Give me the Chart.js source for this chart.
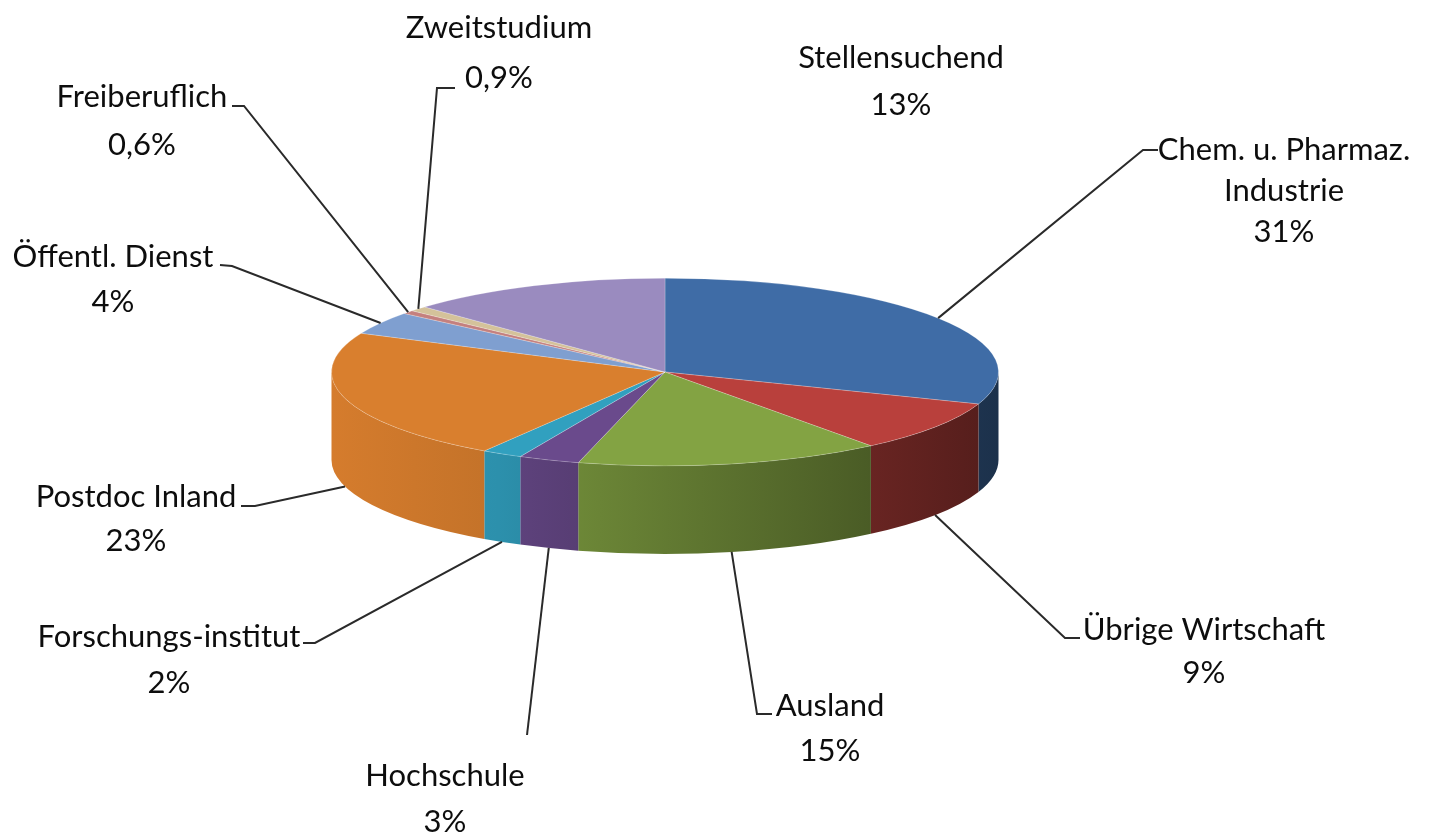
<!DOCTYPE html>
<html>
<head>
<meta charset="utf-8">
<script src="https://cdn.jsdelivr.net/npm/chart.js@4.4.1/dist/chart.umd.min.js"></script>
<style>
    body { margin: 0; background: #fff; }
    #wrap { width: 1429px; height: 834px; position: relative; }
</style>
</head>
<body>
<div id="wrap"><canvas id="myChart"></canvas></div>
<script>
// Kategorien und Werte (Prozent), im Uhrzeigersinn ab 12 Uhr
const categories = ['Chem. u. Pharmaz. Industrie', 'Übrige Wirtschaft', 'Ausland', 'Hochschule', 'Forschungs-institut',
    'Postdoc Inland', 'Öffentl. Dienst', 'Freiberuflich', 'Zweitstudium', 'Stellensuchend'];
const shares = [31, 9, 15, 3, 2, 23, 4, 0.6, 0.9, 13];
const sliceColors = ['#3F6CA6', '#B9403C', '#83A343', '#6A4A8C', '#31A0BF',
    '#D97F2E', '#7F9FD0', '#C4807E', '#D4C29A', '#9A8BBF'];

// Layout der Beschriftungen (Textmitte, erste Zeile, Zeilenabstand, Knick der Fuehrungslinie)
const labelLayout = [
    { x: 1284, y: 150, lh: 41, wrap: true, elbow: [1143, 150], end: [1158, 150] },
    { x: 1204, y: 630, lh: 43, elbow: [1065, 638], end: [1080, 638] },
    { x: 830, y: 706, lh: 45, elbow: [757, 714], end: [772, 714] },
    { x: 445, y: 776, lh: 46, elbow: [527, 735], end: [527, 735] },
    { x: 169, y: 637, lh: 46, elbow: [315, 643], end: [303, 643] },
    { x: 136, y: 497, lh: 44, elbow: [255, 506], end: [241, 506] },
    { x: 113, y: 257, lh: 45, elbow: [232, 266], end: [220, 265] },
    { x: 142, y: 97, lh: 48, elbow: [244, 106], end: [232, 106] },
    { x: 499, y: 28, lh: 50, elbow: [437, 88], end: [455, 88] },
    { x: 901, y: 58, lh: 47, elbow: null, end: null }
];

const tilt = 94 / 334;   // Verhaeltnis Ellipse / Kreis
const depth = 88;        // Hoehe der Seitenwand

function shade(hex, f) {
    let n = parseInt(hex.slice(1), 16);
    let r = Math.round(((n >> 16) & 255) * f);
    let g = Math.round(((n >> 8) & 255) * f);
    let b = Math.round((n & 255) * f);
    return 'rgb(' + r + ',' + g + ',' + b + ')';
}

function pctText(v) {
    return String(v).replace('.', ',') + '%';
}

const pie3d = {
    id: 'pie3d',
    beforeDatasetsDraw(chart) {
        const ctx = chart.ctx;
        const arcs = chart.getDatasetMeta(0).data;
        const cx = arcs[0].x, cy = arcs[0].y, r = arcs[0].outerRadius;
        const ry = r * tilt;

        // Seitenwaende (nur vorderer Teil sichtbar: 0..PI)
        arcs.forEach((arc, i) => {
            let a1 = Math.max(arc.startAngle, 0);
            let a2 = Math.min(arc.endAngle, Math.PI);
            if (a2 <= a1) return;
            let grad = ctx.createLinearGradient(cx - r, 0, cx + r, 0);
            grad.addColorStop(0, shade(sliceColors[i], 0.98));
            grad.addColorStop(0.25, shade(sliceColors[i], 0.9));
            grad.addColorStop(1, shade(sliceColors[i], 0.45));
            ctx.save();
            ctx.beginPath();
            ctx.ellipse(cx, cy, r, ry, 0, a1, a2, false);
            ctx.ellipse(cx, cy + depth, r, ry, 0, a2, a1, true);
            ctx.closePath();
            ctx.fillStyle = grad;
            ctx.fill();
            ctx.restore();
        });

        // Deckflaeche: Kreis zur Ellipse stauchen
        ctx.save();
        ctx.translate(cx, cy);
        ctx.scale(1, tilt);
        ctx.translate(-cx, -cy);
    },
    afterDatasetsDraw(chart) {
        const ctx = chart.ctx;
        ctx.restore();

        const arcs = chart.getDatasetMeta(0).data;
        const cx = arcs[0].x, cy = arcs[0].y, r = arcs[0].outerRadius;
        const ry = r * tilt;

        ctx.save();
        ctx.font = '31px Lato';
        ctx.fillStyle = '#0d0d0d';
        ctx.textAlign = 'center';
        ctx.textBaseline = 'middle';
        ctx.strokeStyle = '#2a2a2a';
        ctx.lineWidth = 2;

        arcs.forEach((arc, i) => {
            const lay = labelLayout[i];
            if (lay.elbow) {
                const mid = (arc.startAngle + arc.endAngle) / 2;
                const s = Math.sin(mid);
                const px = cx + r * Math.cos(mid);
                const py = cy + ry * s + (s > 0 ? depth : 0);
                ctx.beginPath();
                ctx.moveTo(px, py);
                ctx.lineTo(lay.elbow[0], lay.elbow[1]);
                ctx.lineTo(lay.end[0], lay.end[1]);
                ctx.stroke();
            }
            let name = categories[i];
            let lines = [];
            if (lay.wrap) {
                let k = name.lastIndexOf(' ');
                lines.push(name.slice(0, k), name.slice(k + 1));
            } else {
                lines.push(name);
            }
            lines.push(pctText(shares[i]));
            lines.forEach((t, j) => {
                ctx.fillText(t, lay.x, lay.y + j * lay.lh);
            });
        });
        ctx.restore();
    }
};

new Chart(document.getElementById('myChart'), {
    type: 'pie',
    data: {
        labels: categories,
        datasets: [{
            data: shares,
            backgroundColor: sliceColors,
            borderColor: 'rgba(255,255,255,0.35)',
            borderWidth: 1
        }]
    },
    options: {
        responsive: true,
        maintainAspectRatio: false,
        animation: false,
        layout: {
            padding: { left: 331, right: 430, top: 38, bottom: 128 }
        },
        plugins: {
            legend: { display: false },
            tooltip: { enabled: false }
        }
    },
    plugins: [pie3d]
});
</script>
</body>
</html>
